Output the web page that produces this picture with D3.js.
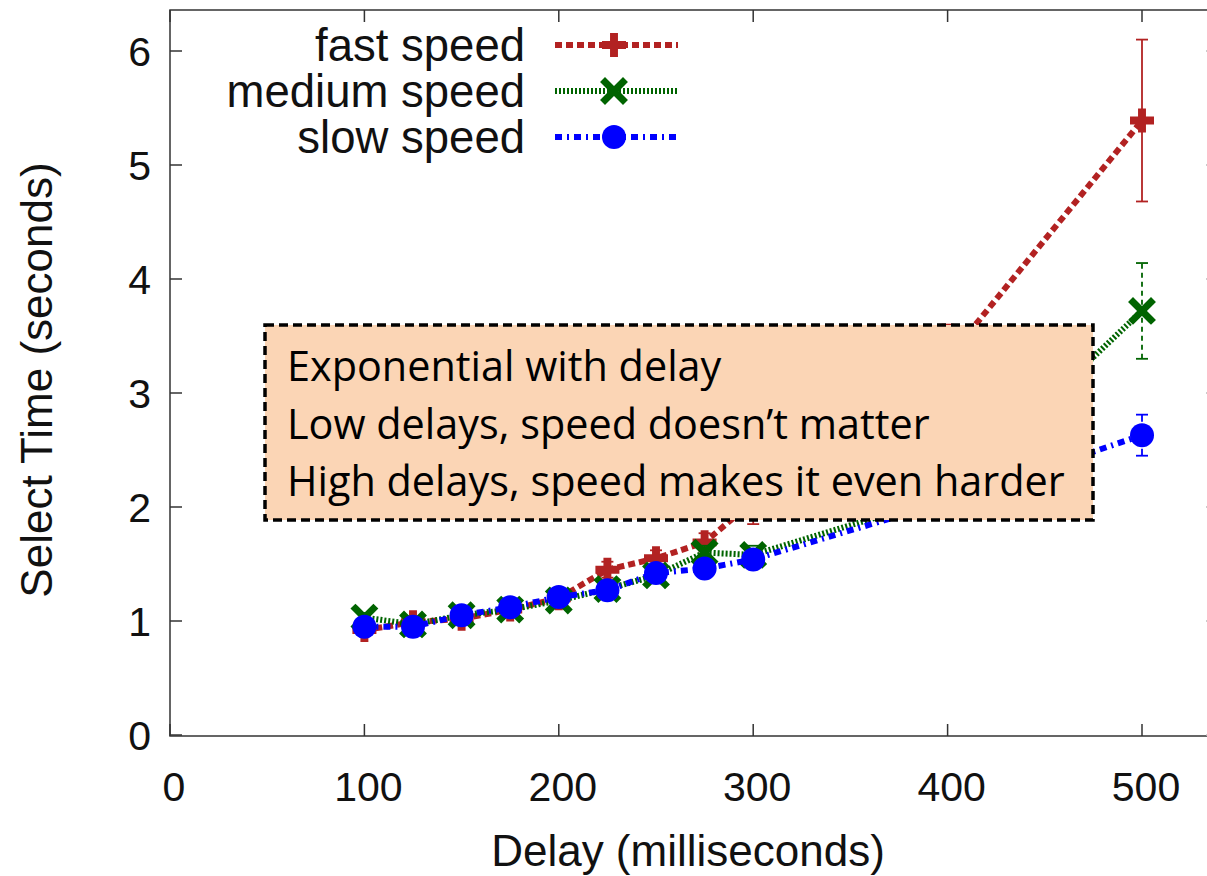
<!DOCTYPE html>
<html>
<head>
<meta charset="utf-8">
<script src="https://cdn.jsdelivr.net/npm/d3@7"></script>
<style>
  body { margin: 0; background: #fff; }
  svg { display: block; }
</style>
</head>
<body>
<svg id="chart" width="1207" height="876"></svg>
<script>
// values
var delays = [100, 125, 150, 175, 200, 225, 250, 275, 300, 400, 500];
var fastTime = [0.92, 0.99, 1.02, 1.10, 1.20, 1.45, 1.55, 1.69, 2.05, 3.30, 5.39];
var fastErr = [0.05, 0.05, 0.05, 0.05, 0.05, 0.07, 0.07, 0.08, 0.20, 0.30, 0.71];
var mediumTime = [1.03, 0.97, 1.05, 1.10, 1.18, 1.28, 1.40, 1.60, 1.58, 2.10, 3.72];
var mediumErr = [0.04, 0.04, 0.04, 0.04, 0.05, 0.05, 0.06, 0.06, 0.08, 0.20, 0.42];
var slowTime = [0.95, 0.95, 1.05, 1.12, 1.21, 1.27, 1.42, 1.46, 1.54, 2.05, 2.63];
var slowErr = [0.04, 0.04, 0.04, 0.04, 0.05, 0.05, 0.05, 0.06, 0.06, 0.15, 0.18];
var seriesNames = ["fast speed", "medium speed", "slow speed"];
var xTicks = [0, 100, 200, 300, 400, 500];
var yTicks = [0, 1, 2, 3, 4, 5, 6];
var noteLines = [
  "Exponential with delay",
  "Low delays, speed doesn\u2019t matter",
  "High delays, speed makes it even harder"
];

var svg = d3.select("#chart");
var font = "'Liberation Sans', Arial, Helvetica, sans-serif";

var xScale = d3.scaleLinear().domain([0, 500]).range([170, 1142]);
var yScale = d3.scaleLinear().domain([0, 6]).range([735, 51]);
var frame = { left: 170, right: 1212, top: 10, bottom: 736 };

// frame
svg.append("rect")
  .attr("x", frame.left)
  .attr("y", frame.top)
  .attr("width", frame.right - frame.left)
  .attr("height", frame.bottom - frame.top)
  .attr("fill", "none")
  .attr("stroke", "#333")
  .attr("stroke-width", 1.5);

// ticks pointing inward, on all sides
var tickLen = 12;
xTicks.forEach(function (t) {
  svg.append("line")
    .attr("x1", xScale(t)).attr("x2", xScale(t))
    .attr("y1", frame.bottom).attr("y2", frame.bottom - tickLen)
    .attr("stroke", "#333").attr("stroke-width", 1.5);
  svg.append("line")
    .attr("x1", xScale(t)).attr("x2", xScale(t))
    .attr("y1", frame.top).attr("y2", frame.top + tickLen)
    .attr("stroke", "#333").attr("stroke-width", 1.5);
  svg.append("text")
    .text(t)
    .attr("x", xScale(t) + 4)
    .attr("y", 801)
    .attr("text-anchor", "middle")
    .attr("font-family", font)
    .attr("font-size", "41px")
    .attr("fill", "#111");
});
yTicks.forEach(function (t) {
  svg.append("line")
    .attr("x1", frame.left).attr("x2", frame.left + tickLen)
    .attr("y1", yScale(t)).attr("y2", yScale(t))
    .attr("stroke", "#333").attr("stroke-width", 1.5);
  svg.append("line")
    .attr("x1", frame.right).attr("x2", frame.right - 6)
    .attr("y1", yScale(t)).attr("y2", yScale(t))
    .attr("stroke", "#bbb").attr("stroke-width", 1.5);
  svg.append("text")
    .text(t)
    .attr("x", 151)
    .attr("y", yScale(t) + 15)
    .attr("text-anchor", "end")
    .attr("font-family", font)
    .attr("font-size", "41px")
    .attr("fill", "#111");
});

// axis titles
svg.append("text")
  .text("Delay (milliseconds)")
  .attr("x", 688)
  .attr("y", 866)
  .attr("text-anchor", "middle")
  .attr("font-family", font)
  .attr("font-size", "44px")
  .attr("fill", "#111");
svg.append("text")
  .text("Select Time (seconds)")
  .attr("transform", "translate(52,380) rotate(-90)")
  .attr("text-anchor", "middle")
  .attr("font-family", font)
  .attr("font-size", "44px")
  .attr("fill", "#111");

// marker shapes
function plusPath(s) {
  var a = s, b = s * 0.33;
  return "M" + -b + "," + -a + "H" + b + "V" + -b + "H" + a + "V" + b + "H" + b +
    "V" + a + "H" + -b + "V" + b + "H" + -a + "V" + -b + "H" + -b + "Z";
}
function drawMarker(g, kind, x, y, color) {
  if (kind === "plus") {
    g.append("path")
      .attr("d", plusPath(12))
      .attr("transform", "translate(" + x + "," + y + ")")
      .attr("fill", color);
  } else if (kind === "cross") {
    g.append("path")
      .attr("d", "M-9,-9L9,9M9,-9L-9,9")
      .attr("transform", "translate(" + x + "," + y + ")")
      .attr("stroke", color)
      .attr("stroke-width", 7)
      .attr("stroke-linecap", "square");
  } else {
    g.append("circle")
      .attr("cx", x).attr("cy", y)
      .attr("r", 12)
      .attr("fill", color);
  }
}

var series = [
  { name: seriesNames[0], values: fastTime, err: fastErr, color: "#B22222",
    dash: "7,4", errDash: null, marker: "plus" },
  { name: seriesNames[1], values: mediumTime, err: mediumErr, color: "#006400",
    dash: "2,2", errDash: "5,4", marker: "cross" },
  { name: seriesNames[2], values: slowTime, err: slowErr, color: "#0000FF",
    dash: "7,5,2,5", errDash: "7,4,2,4", marker: "circle" }
];

var line = d3.line()
  .x(function (d) { return xScale(d[0]); })
  .y(function (d) { return yScale(d[1]); });

series.forEach(function (s) {
  var g = svg.append("g");
  var pts = delays.map(function (d, i) { return [d, s.values[i]]; });

  // error bars
  delays.forEach(function (d, i) {
    var x = xScale(d);
    var y0 = yScale(s.values[i] - s.err[i]);
    var y1 = yScale(s.values[i] + s.err[i]);
    g.append("line")
      .attr("x1", x).attr("x2", x).attr("y1", y0).attr("y2", y1)
      .attr("stroke", s.color).attr("stroke-width", 1.8)
      .attr("stroke-dasharray", s.errDash);
    [y0, y1].forEach(function (yy) {
      g.append("line")
        .attr("x1", x - 6).attr("x2", x + 6).attr("y1", yy).attr("y2", yy)
        .attr("stroke", s.color).attr("stroke-width", 1.8);
    });
  });

  g.append("path")
    .attr("d", line(pts))
    .attr("fill", "none")
    .attr("stroke", s.color)
    .attr("stroke-width", 6)
    .attr("stroke-dasharray", s.dash);

  pts.forEach(function (p) {
    drawMarker(g, s.marker, xScale(p[0]), yScale(p[1]), s.color);
  });
});

// legend
var legendY = [45, 91, 137];
series.forEach(function (s, i) {
  var y = legendY[i];
  svg.append("text")
    .text(s.name)
    .attr("x", 525)
    .attr("y", y + 16)
    .attr("text-anchor", "end")
    .attr("font-family", font)
    .attr("font-size", "45.5px")
    .attr("fill", "#111");
  svg.append("line")
    .attr("x1", 555).attr("x2", 678).attr("y1", y).attr("y2", y)
    .attr("stroke", s.color)
    .attr("stroke-width", 6)
    .attr("stroke-dasharray", s.dash);
  drawMarker(svg, s.marker, 614, y, s.color);
});

// annotation box
var box = { x: 265, y: 325, w: 828, h: 195 };
svg.append("rect")
  .attr("x", box.x).attr("y", box.y)
  .attr("width", box.w).attr("height", box.h)
  .attr("fill", "#FBD5B5")
  .attr("stroke", "#000")
  .attr("stroke-width", 3.5)
  .attr("stroke-dasharray", "9,5");

var noteFont = "'Open Sans', 'Noto Sans', sans-serif";
var notes = svg.append("g");
noteLines.forEach(function (t, i) {
  notes.append("text")
    .text(t)
    .attr("x", 287)
    .attr("y", 381 + i * 57.5)
    .attr("font-family", noteFont)
    .attr("font-size", "36px")
    .attr("fill", "#000");
});
// fit the longest line to the width it has in the picture
var widest = d3.max(notes.selectAll("text").nodes(), function (n) {
  return n.getComputedTextLength();
});
notes.selectAll("text").attr("font-size", (36 * 778 / widest) + "px");
</script>
</body>
</html>
